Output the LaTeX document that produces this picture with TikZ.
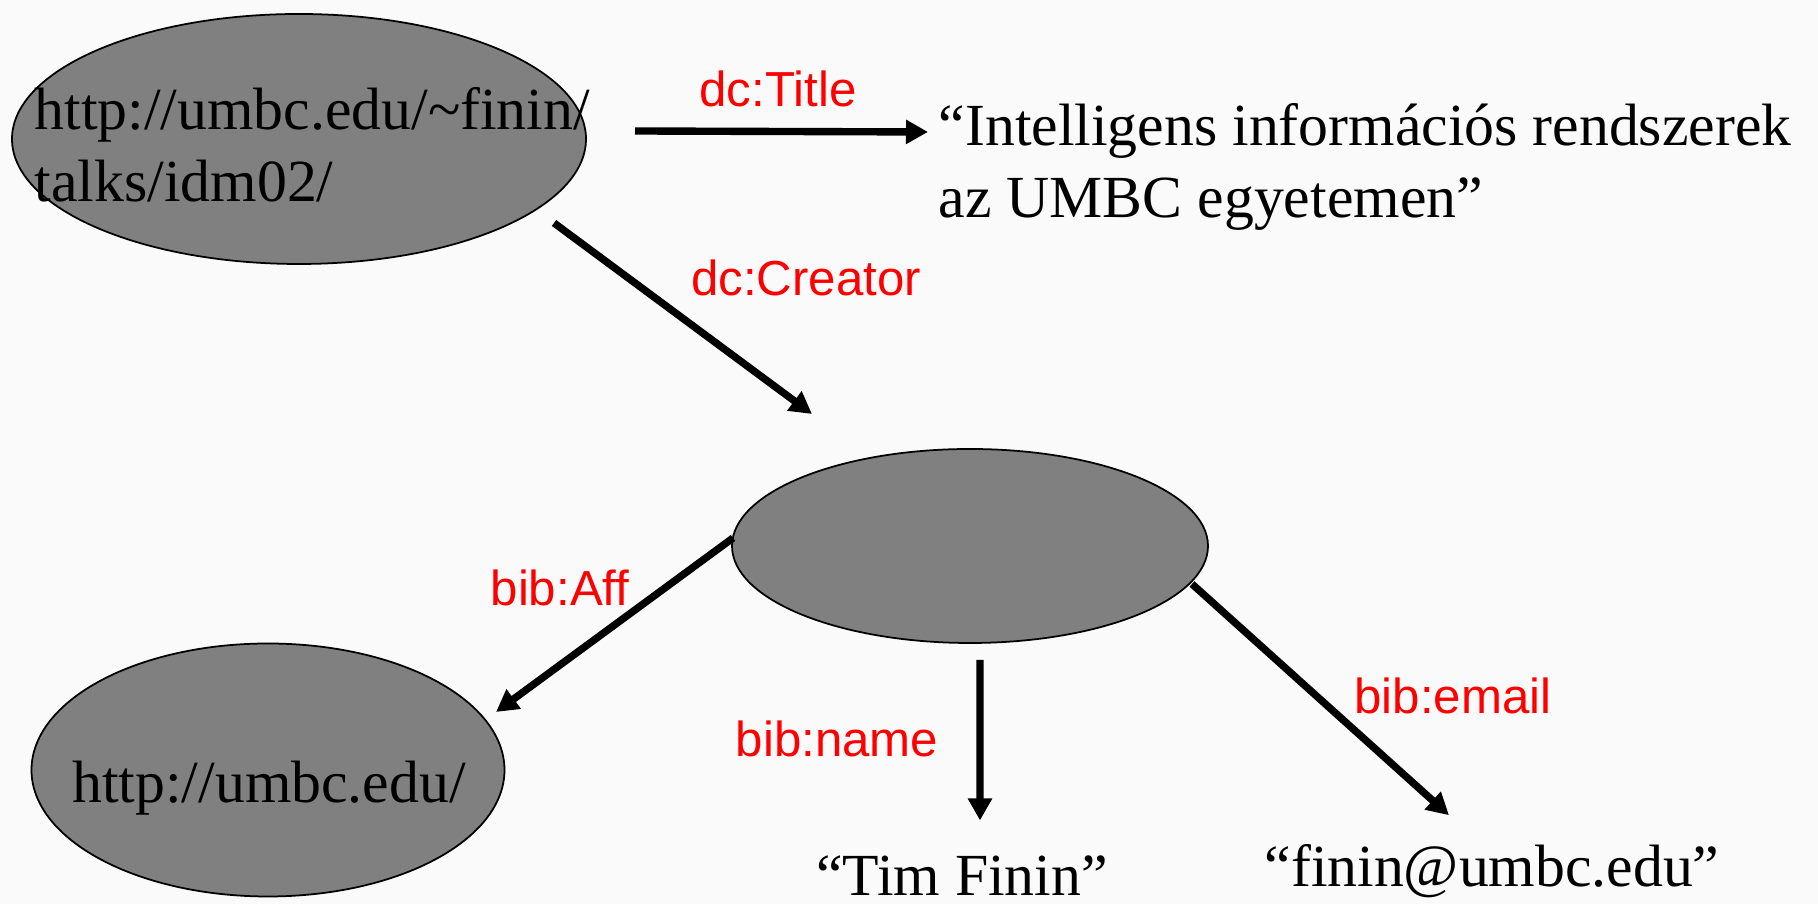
\documentclass[tikz,border=0pt]{standalone}
\usepackage{fontspec}
\setmainfont{Liberation Serif}
\newfontfamily\labelfont{Liberation Sans}
\usetikzlibrary{shapes.geometric,arrows.meta,positioning}
\definecolor{paper}{RGB}{250,250,250}
\definecolor{nodegray}{RGB}{128,128,128}

\begin{document}
\begin{tikzpicture}[
  uri/.style={ellipse, draw, fill=nodegray, line width=0.5pt, inner sep=0pt},
  lit/.style={font=\fontsize{17}{20.5}\selectfont, inner sep=0pt, align=left},
  prop/.style={font=\labelfont\fontsize{14}{16}\selectfont, text=red, inner sep=0pt},
  arr/.style={-{Triangle[length=2.2mm, width=2.3mm]}, line width=2.1pt}
]
\fill[paper] (0,0) rectangle (18.18,9.04);
% resources
\node[uri, minimum width=5.74cm, minimum height=2.5cm] (res) at (2.99,7.65) {};
\node[uri, minimum width=4.76cm, minimum height=1.94cm] (creator) at (9.70,3.58) {};
\node[uri, minimum width=4.73cm, minimum height=2.53cm] (aff) at (2.68,1.34) {};
\node[lit, anchor=west] (restext) at (0.34,7.59) {http://umbc.edu/\textasciitilde finin/\\talks/idm02/};
\node[lit, anchor=base] (afftext) at (2.69,1.01) {http://umbc.edu/};
% literals
\node[lit, anchor=west] (title) at (9.38,7.37) {“Intelligens információs rendszerek\\az UMBC egyetemen”};
\node[lit, anchor=base] (name) at (9.62,0.08) {“Tim Finin”};
\node[lit, anchor=base] (email) at (14.92,0.17) {“finin@umbc.edu”};
% properties
\node[prop] (ltitle) at (7.78,8.15) {dc:Title};
\node[prop] (lcreator) at (8.06,6.26) {dc:Creator};
\node[prop] (laff) at (5.60,3.16) {bib:Aff};
\node[prop] (lname) at (8.37,1.65) {bib:name};
\node[prop] (lemail) at (14.53,2.08) {bib:email};
% arcs
\draw[arr] ([shift={(3.36,0.08)}]res.center) -- ([shift={(-0.10,0.35)}]title.west);
\draw[arr] ([shift={(2.55,-0.84)}]res.center) -- ([shift={(-1.58,1.32)}]creator.center);
\draw[arr] ([shift={(-2.37,0.08)}]creator.center) -- ([shift={(2.28,0.58)}]aff.center);
\draw[arr] ([shift={(0.10,-0.16)}]creator.south) -- ([shift={(0.18,0.35)}]name.north);
\draw[arr] ([shift={(2.22,-0.38)}]creator.center) -- ([shift={(-0.43,0.29)}]email.north);
\end{tikzpicture}
\end{document}
